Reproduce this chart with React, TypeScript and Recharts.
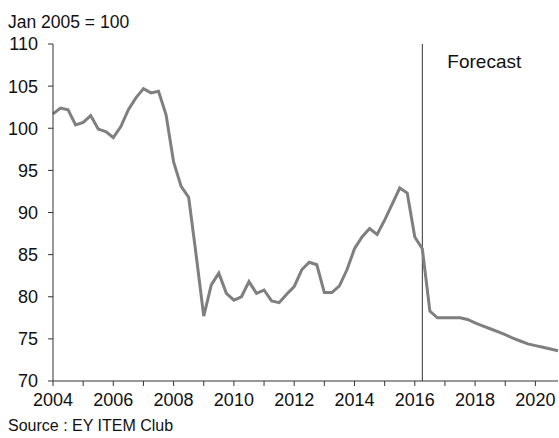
import { LineChart, Line, XAxis, YAxis, ReferenceLine } from "recharts"

// quarterly index, Jan 2005 = 100, from 2004 Q1 to 2020 Q4
const startYear = 2004
const indexValues = [
    101.7, 102.4, 102.2, 100.4,
    100.7, 101.5, 99.9, 99.6,
    98.9, 100.2, 102.2, 103.6,
    104.7, 104.2, 104.4, 101.6,
    96.0, 93.1, 91.8, 84.9,
    77.7, 81.4, 82.8, 80.4,
    79.6, 80.0, 81.8, 80.4,
    80.8, 79.5, 79.3, 80.3,
    81.2, 83.2, 84.1, 83.8,
    80.5, 80.5, 81.3, 83.2,
    85.7, 87.1, 88.1, 87.4,
    89.1, 91.0, 92.9, 92.3,
    87.1, 85.7, 78.3, 77.5,
    77.5, 77.5, 77.5, 77.3,
    76.9, 76.55, 76.2, 75.85,
    75.5, 75.1, 74.75, 74.4,
    74.2, 74.0, 73.8, 73.6,
]
const yearTicks = [2004, 2005, 2006, 2007, 2008, 2009, 2010, 2011, 2012, 2013, 2014, 2015, 2016, 2017, 2018, 2019, 2020]
const valueTicks = [70, 75, 80, 85, 90, 95, 100, 105, 110]
const forecastStart = 2016.25

const data = indexValues.map((v, i) => ({ x: startYear + i * 0.25, value: v }))

const font = "'Liberation Sans', Arial, sans-serif"

export default function App() {
    return (
        <div style={{ position: "absolute", left: 0, top: 0, width: 559, height: 438, background: "#fff", fontFamily: font }}>
            <div style={{ position: "absolute", left: 8, top: 12, fontSize: 17.5, color: "#111" }}>Jan 2005 = 100</div>
            <LineChart width={559} height={438} data={data} margin={{ top: 44, right: 1, bottom: 27, left: 0 }}>
                <XAxis
                    dataKey="x"
                    type="number"
                    domain={[2004, 2020.75]}
                    ticks={yearTicks}
                    interval={0}
                    tickFormatter={(v) => (v % 2 === 0 ? String(v) : "")}
                    tickSize={5}
                    tickMargin={7}
                    height={30}
                    stroke="#333"
                    tick={{ fill: "#111", fontSize: 18, fontFamily: font }}
                />
                <YAxis
                    domain={[70, 110]}
                    ticks={valueTicks}
                    interval={0}
                    tickSize={5}
                    tickMargin={10}
                    width={53}
                    stroke="#333"
                    tick={{ fill: "#111", fontSize: 18, fontFamily: font }}
                />
                <ReferenceLine
                    x={forecastStart}
                    stroke="#333"
                    strokeWidth={1}
                    label={(props: any) => (
                        <text x={props.viewBox.x + 25} y={props.viewBox.y + 24} fontSize={19} fontFamily={font} fill="#111">
                            Forecast
                        </text>
                    )}
                />
                <Line type="linear" dataKey="value" stroke="#7f7f7f" strokeWidth={3} dot={false} isAnimationActive={false} />
            </LineChart>
            <div style={{ position: "absolute", left: 8, top: 417, fontSize: 16, color: "#111" }}>Source : EY ITEM Club</div>
        </div>
    )
}
